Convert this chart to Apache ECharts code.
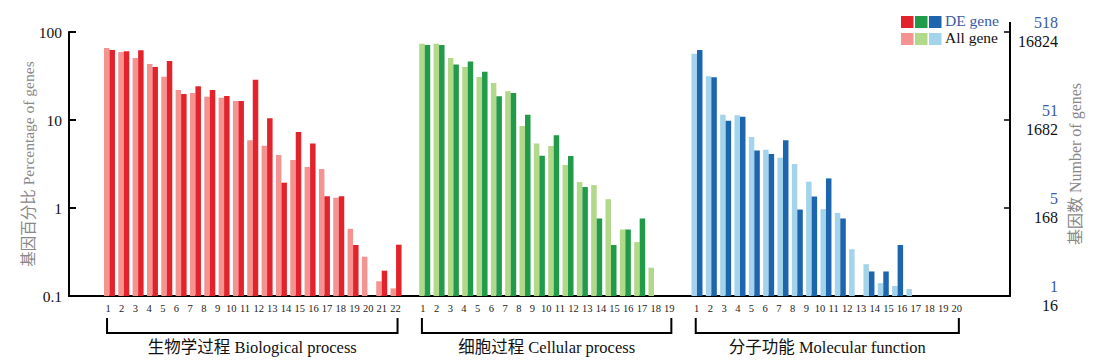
<!DOCTYPE html>
<html><head><meta charset="utf-8">
<script src="https://cdn.jsdelivr.net/npm/echarts@6/dist/echarts.min.js"></script>
<style>html,body{margin:0;padding:0;background:#fff}#c{width:1112px;height:364px}</style>
</head><body><div id="c"></div>
<script>
// ---- data: percentage of genes (All gene / DE gene) per GO term ----
const bpAll = [65.8,59.3,50.7,43.3,31,21.9,20.3,18.4,17.9,16.4,5.9,5.1,4.0,3.5,2.92,2.77,1.31,0.58,0.28,0.147,0.122];
const bpDE  = [62.4,60.4,61.9,40,46.8,19.7,24.2,21.9,18.7,16.4,28.7,10.5,1.94,7.3,5.4,1.36,1.36,0.38,null,0.194,0.383];
const ccAll = [73.6,73.6,50.7,40,30.8,26.3,21.2,8.55,5.4,5.05,3.08,1.97,1.82,1.26,0.57,0.41,0.21];
const ccDE  = [71,71,42.6,46.2,35.4,18.6,20.3,11.5,3.92,6.7,3.9,1.73,0.76,0.38,0.57,0.76,null];
const mfAll = [56.6,31.5,11.5,11.3,6.4,4.58,3.73,3.16,1.99,0.97,0.88,0.34,0.23,0.14,0.13,0.12];
const mfDE  = [62.4,30.6,9.8,10.9,4.5,4.12,5.9,0.96,1.35,2.17,0.76,null,0.19,0.19,0.38,null];

// ---- category tick labels ----
const bpLabels = ['1','2','3','4','5','6','7','8','9','10','11','12','13','14','15','16','17','18','19','20','21','22'];
const ccLabels = ['1','2','3','4','5','6','7','8','9','10','11','12','13','14','15','16','17','18','19'];
const mfLabels = ['1','2','3','4','5','6','7','8','9','10','11','12','13','14','15','16','17','18','19','20'];
const groupNames = ['生物学过程 Biological process','细胞过程 Cellular process','分子功能 Molecular function'];

// ---- axis tick labels (ticks at 0.1, 1, 10, 100 %) ----
const leftTicks = ['0.1','1','10','100'];
const deCounts  = ['1','5','51','518'];
const allCounts = ['16','168','1682','16824'];

const colors = {
  bp: ['#f4938f', '#e3232b'],
  cc: ['#b2d88a', '#219a4a'],
  mf: ['#a4d3ec', '#1d65ac']
};
const FONT = '"Liberation Serif", "Noto Sans CJK SC", serif';

// bar slots: groups separated by empty slots
const barCats = [], allData = [], deData = [];
function addGroup(key, all, de) {
  all.forEach((v, i) => {
    barCats.push(key + (i + 1));
    allData.push(v == null ? null : { value: v, itemStyle: { color: colors[key][0] } });
    deData.push(de[i] == null ? null : { value: de[i], itemStyle: { color: colors[key][1] } });
  });
}
function addGap(n) { for (let i = 0; i < n; i++) { barCats.push('gap' + barCats.length); allData.push(null); deData.push(null); } }
addGroup('bp', bpAll, bpDE); addGap(1);
addGroup('cc', ccAll, ccDE); addGap(2);
addGroup('mf', mfAll, mfDE);

// label slots
const labelCats = [];
const groupRanges = [];
function addLabels(key, labels) {
  const s = labelCats.length;
  labels.forEach(l => labelCats.push(key + '|' + l));
  groupRanges.push([s, labelCats.length - 1]);
}
addLabels('bp', bpLabels); labelCats.push('g1|');
addLabels('cc', ccLabels); labelCats.push('g2|');
addLabels('mf', mfLabels);

const logIdx = v => Math.round(Math.log10(v)) + 1;

const chart = echarts.init(document.getElementById('c'), null, { renderer: 'svg' });
chart.setOption({
  animation: false,
  textStyle: { fontFamily: FONT },
  grid: [
    { left: 69, right: 102, top: 32, bottom: 68 },          // frame
    { left: 102.3, width: 816.8, top: 32, bottom: 68 },     // bars
    { left: 101.2, width: 862.5, top: 296, height: 1 }      // labels + brackets
  ],
  xAxis: [
    { gridIndex: 0, type: 'value', min: 0, max: 1,
      axisLine: { show: true, lineStyle: { color: '#000', width: 2 } },
      axisTick: { show: false }, axisLabel: { show: false }, splitLine: { show: false } },
    { gridIndex: 1, type: 'category', data: barCats, show: false },
    { gridIndex: 2, type: 'category', data: labelCats,
      axisLine: { show: false }, axisTick: { show: false }, splitLine: { show: false },
      axisLabel: { interval: 0, margin: 6, fontSize: 10.5, color: '#222', fontFamily: FONT,
        formatter: v => v.split('|')[1] } }
  ],
  yAxis: [
    { gridIndex: 0, type: 'log', logBase: 10, min: 0.1, max: 100, position: 'left',
      name: '基因百分比 Percentage of genes', nameLocation: 'middle', nameGap: 33, nameRotate: 90,
      nameMoveOverlap: false,
      nameTextStyle: { color: '#888', fontSize: 15.5, fontFamily: FONT },
      axisLine: { show: true, lineStyle: { color: '#000', width: 2 } },
      axisTick: { show: true, inside: true, length: 7, lineStyle: { color: '#000', width: 2 } },
      splitLine: { show: false }, minorTick: { show: false },
      axisLabel: { margin: 7, fontSize: 15.5, color: '#111', fontFamily: FONT,
        showMinLabel: true, showMaxLabel: true,
        formatter: v => leftTicks[logIdx(v)] } },
    { gridIndex: 0, type: 'log', logBase: 10, min: 0.1, max: 100, position: 'right',
      name: '基因数 Number of genes', nameLocation: 'middle', nameGap: 57, nameRotate: 90,
      nameMoveOverlap: false,
      nameTextStyle: { color: '#888', fontSize: 16, fontFamily: FONT },
      axisLine: { show: true, lineStyle: { color: '#000', width: 2 } },
      axisTick: { show: true, inside: true, length: 6, lineStyle: { color: '#000', width: 1.5 } },
      splitLine: { show: false },
      axisLabel: { margin: 48, align: 'right', fontFamily: FONT,
        showMinLabel: true, showMaxLabel: true,
        formatter: v => { const i = logIdx(v); return '{de|' + deCounts[i] + '}\n{all|' + allCounts[i] + '}'; },
        rich: {
          de: { color: '#3a5aa8', fontSize: 16, lineHeight: 19, align: 'right', fontFamily: FONT },
          all: { color: '#111', fontSize: 16, lineHeight: 19, align: 'right', fontFamily: FONT }
        } } },
    { gridIndex: 1, type: 'log', logBase: 10, min: 0.1, max: 100, startValue: 0.1, show: false },
    { gridIndex: 2, type: 'value', min: 0, max: 1, show: false }
  ],
  series: [
    { name: 'All gene', type: 'bar', xAxisIndex: 1, yAxisIndex: 2, data: allData,
      barWidth: 5.5, barGap: '0%' },
    { name: 'DE gene', type: 'bar', xAxisIndex: 1, yAxisIndex: 2, data: deData,
      barWidth: 5.5, barGap: '0%' },
    { type: 'custom', xAxisIndex: 2, yAxisIndex: 3, clip: false, silent: true,
      data: groupRanges,
      renderItem: (params, api) => {
        const a = api.coord([api.value(0), 0]);
        const b = api.coord([api.value(1), 0]);
        const x1 = a[0] - 1, x2 = b[0] + 2, y0 = a[1];
        return { type: 'group', children: [
          { type: 'polyline', shape: { points: [[x1, y0 + 21], [x1, y0 + 36], [x2, y0 + 36], [x2, y0 + 21]] },
            style: { stroke: '#000', lineWidth: 2, fill: null } },
          { type: 'text', style: { text: groupNames[params.dataIndex], x: (x1 + x2) / 2, y: y0 + 42,
            align: 'center', verticalAlign: 'top', fontSize: 16.5, fontFamily: FONT, fill: '#111' } }
        ] };
      } }
  ],
  graphic: [
    { type: 'line', shape: { x1: 1010, y1: 22, x2: 1010, y2: 33 }, style: { stroke: '#000', lineWidth: 2 } },
    { type: 'rect', left: 901, top: 16, shape: { width: 12.5, height: 12 }, style: { fill: colors.bp[1] } },
    { type: 'rect', left: 915, top: 16, shape: { width: 12.5, height: 12 }, style: { fill: colors.cc[1] } },
    { type: 'rect', left: 929, top: 16, shape: { width: 12.5, height: 12 }, style: { fill: colors.mf[1] } },
    { type: 'text', left: 945, top: 13, style: { text: 'DE gene', fontSize: 15.5, fontFamily: FONT, fill: '#3a5aa8' } },
    { type: 'rect', left: 901, top: 33, shape: { width: 12.5, height: 12 }, style: { fill: colors.bp[0] } },
    { type: 'rect', left: 915, top: 33, shape: { width: 12.5, height: 12 }, style: { fill: colors.cc[0] } },
    { type: 'rect', left: 929, top: 33, shape: { width: 12.5, height: 12 }, style: { fill: colors.mf[0] } },
    { type: 'text', left: 945, top: 30, style: { text: 'All gene', fontSize: 15.5, fontFamily: FONT, fill: '#111' } }
  ]
});
</script>
</body></html>
